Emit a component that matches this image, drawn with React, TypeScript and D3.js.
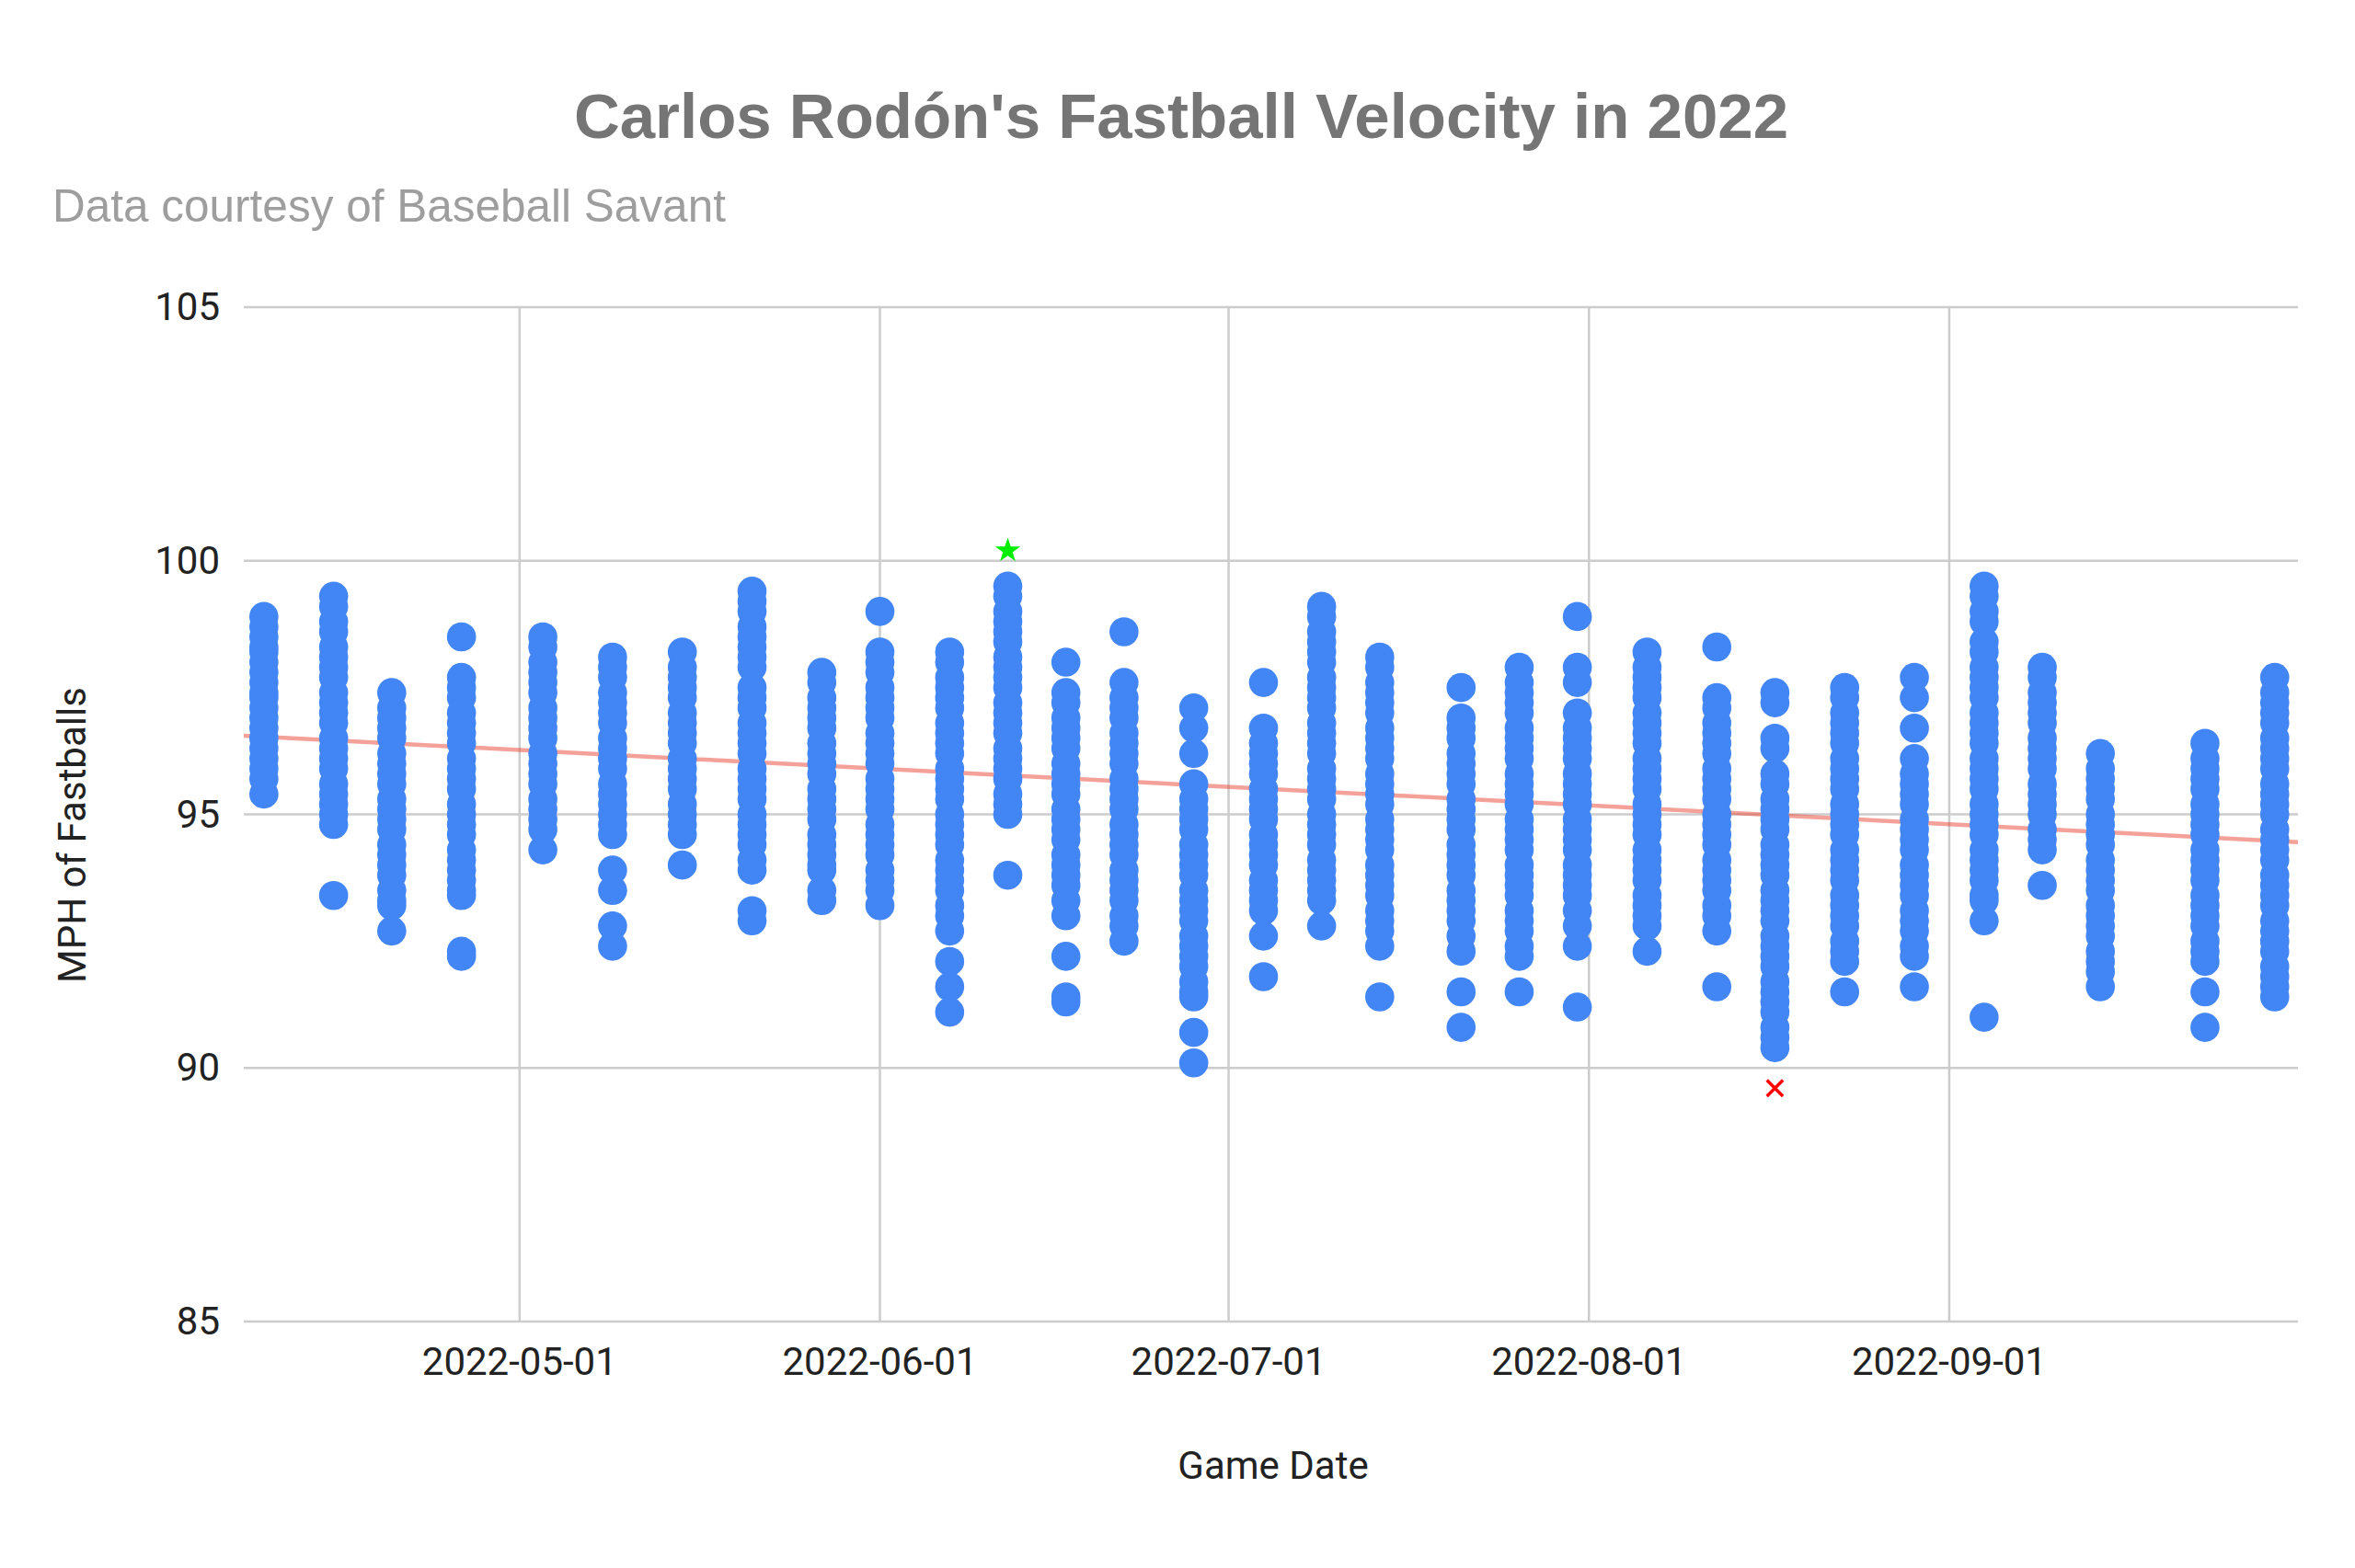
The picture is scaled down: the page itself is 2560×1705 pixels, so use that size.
import * as d3 from "d3";
import React from "react";

// Starts, one column of fastballs per game
const gameDates = [
  "2022-04-09", "2022-04-15", "2022-04-20", "2022-04-26", "2022-05-03", "2022-05-09",
  "2022-05-15", "2022-05-21", "2022-05-27", "2022-06-01", "2022-06-07", "2022-06-12",
  "2022-06-17", "2022-06-22", "2022-06-28", "2022-07-04", "2022-07-09", "2022-07-14",
  "2022-07-21", "2022-07-26", "2022-07-31", "2022-08-06", "2022-08-12", "2022-08-17",
  "2022-08-23", "2022-08-29", "2022-09-04", "2022-09-09", "2022-09-14", "2022-09-23",
  "2022-09-29",
];

// MPH of each fastball, same order as gameDates
const gameSpeeds: number[][] = [
  [98.9, 98.7, 98.5, 98.3, 98.2, 98.0, 97.8, 97.6, 97.4, 97.3, 97.1, 96.9, 96.7, 96.5, 96.3, 96.1, 95.9, 95.7, 95.4],
  [99.3, 99.1, 98.8, 98.6, 98.3, 98.1, 97.9, 97.7, 97.4, 97.2, 97.0, 96.8, 96.5, 96.3, 96.1, 95.9, 95.6, 95.4, 95.2, 95.0, 94.8, 93.4],
  [97.4, 97.1, 96.9, 96.7, 96.5, 96.2, 96.0, 95.8, 95.6, 95.3, 95.1, 94.9, 94.7, 94.4, 94.2, 94.0, 93.8, 93.5, 93.3, 93.2, 92.7],
  [98.5, 97.7, 97.5, 97.3, 97.0, 96.8, 96.6, 96.4, 96.1, 95.9, 95.7, 95.5, 95.2, 95.0, 94.8, 94.6, 94.3, 94.1, 93.9, 93.7, 93.5, 93.4, 92.3, 92.2],
  [98.5, 98.3, 98.0, 97.8, 97.6, 97.4, 97.1, 96.9, 96.7, 96.5, 96.2, 96.0, 95.8, 95.6, 95.3, 95.1, 94.9, 94.7, 94.3],
  [98.1, 97.9, 97.7, 97.4, 97.2, 97.0, 96.8, 96.5, 96.3, 96.1, 95.9, 95.6, 95.4, 95.2, 95.0, 94.8, 94.6, 93.9, 93.5, 92.8, 92.4],
  [98.2, 97.9, 97.7, 97.5, 97.3, 97.0, 96.8, 96.6, 96.4, 96.1, 95.9, 95.7, 95.5, 95.2, 95.0, 94.8, 94.6, 94.0],
  [99.4, 99.2, 99.0, 98.7, 98.5, 98.3, 98.1, 97.9, 97.5, 97.3, 97.1, 96.8, 96.6, 96.4, 96.2, 95.9, 95.7, 95.5, 95.3, 95.0, 94.8, 94.6, 94.4, 94.1, 93.9, 93.1, 92.9],
  [97.8, 97.6, 97.3, 97.1, 96.9, 96.7, 96.4, 96.2, 96.0, 95.8, 95.5, 95.3, 95.1, 94.9, 94.6, 94.4, 94.2, 94.0, 93.9, 93.5, 93.3],
  [99.0, 98.2, 98.0, 97.8, 97.5, 97.3, 97.1, 96.9, 96.6, 96.4, 96.2, 96.0, 95.7, 95.5, 95.3, 95.1, 94.8, 94.6, 94.4, 94.2, 93.9, 93.7, 93.5, 93.2],
  [98.2, 98.0, 97.7, 97.5, 97.3, 97.1, 96.8, 96.6, 96.4, 96.2, 95.9, 95.7, 95.5, 95.3, 95.0, 94.8, 94.6, 94.4, 94.1, 93.9, 93.7, 93.5, 93.2, 93.0, 92.7, 92.1, 91.6, 91.1],
  [99.5, 99.3, 99.0, 98.8, 98.6, 98.4, 98.1, 97.9, 97.7, 97.5, 97.2, 97.0, 96.8, 96.6, 96.3, 96.1, 95.9, 95.7, 95.4, 95.2, 95.0, 93.8],
  [98.0, 97.4, 97.2, 96.9, 96.7, 96.5, 96.3, 96.0, 95.8, 95.6, 95.4, 95.1, 94.9, 94.7, 94.5, 94.2, 94.0, 93.8, 93.6, 93.3, 93.0, 92.2, 91.4, 91.3],
  [98.6, 97.6, 97.3, 97.1, 96.9, 96.6, 96.4, 96.2, 96.0, 95.7, 95.5, 95.3, 95.1, 94.8, 94.6, 94.4, 94.2, 93.9, 93.7, 93.5, 93.3, 93.0, 92.8, 92.5],
  [97.1, 96.7, 96.2, 95.6, 95.3, 95.1, 94.9, 94.7, 94.4, 94.2, 94.0, 93.8, 93.5, 93.3, 93.1, 92.9, 92.6, 92.4, 92.2, 92.0, 91.7, 91.5, 91.4, 90.7, 90.1],
  [97.6, 96.7, 96.4, 96.2, 96.0, 95.8, 95.5, 95.3, 95.1, 94.9, 94.6, 94.4, 94.2, 94.0, 93.7, 93.5, 93.3, 93.1, 92.6, 91.8],
  [99.1, 98.9, 98.6, 98.4, 98.2, 98.0, 97.7, 97.5, 97.3, 97.1, 96.8, 96.6, 96.4, 96.2, 95.9, 95.7, 95.5, 95.3, 95.0, 94.8, 94.6, 94.4, 94.1, 93.9, 93.7, 93.5, 93.3, 92.8],
  [98.1, 97.9, 97.6, 97.4, 97.2, 97.0, 96.7, 96.5, 96.3, 96.1, 95.8, 95.6, 95.4, 95.2, 94.9, 94.7, 94.5, 94.3, 94.0, 93.8, 93.6, 93.4, 93.1, 92.9, 92.7, 92.4, 91.4],
  [97.5, 96.9, 96.7, 96.5, 96.2, 96.0, 95.8, 95.6, 95.3, 95.1, 94.9, 94.7, 94.4, 94.2, 94.0, 93.8, 93.5, 93.3, 93.1, 92.9, 92.6, 92.3, 91.5, 90.8],
  [97.9, 97.6, 97.4, 97.2, 97.0, 96.7, 96.5, 96.3, 96.1, 95.8, 95.6, 95.4, 95.2, 94.9, 94.7, 94.5, 94.3, 94.0, 93.8, 93.6, 93.4, 93.1, 92.9, 92.7, 92.4, 92.2, 91.5],
  [98.9, 97.9, 97.6, 97.0, 96.7, 96.5, 96.3, 96.1, 95.8, 95.6, 95.4, 95.2, 94.9, 94.7, 94.5, 94.3, 94.0, 93.8, 93.6, 93.4, 93.1, 92.8, 92.4, 91.2],
  [98.2, 97.9, 97.7, 97.5, 97.3, 97.0, 96.8, 96.6, 96.4, 96.1, 95.9, 95.7, 95.5, 95.2, 95.0, 94.8, 94.6, 94.3, 94.1, 93.9, 93.7, 93.4, 93.2, 93.0, 92.8, 92.3],
  [98.3, 97.3, 97.1, 96.8, 96.6, 96.4, 96.2, 95.9, 95.7, 95.5, 95.3, 95.0, 94.8, 94.6, 94.4, 94.1, 93.9, 93.7, 93.5, 93.2, 93.0, 92.7, 91.6],
  [97.4, 97.2, 96.5, 96.3, 95.8, 95.6, 95.3, 95.1, 94.9, 94.7, 94.4, 94.2, 94.0, 93.8, 93.5, 93.3, 93.1, 92.9, 92.6, 92.4, 92.2, 92.0, 91.7, 91.5, 91.3, 91.1, 90.8, 90.6, 90.4],
  [97.5, 97.3, 97.0, 96.8, 96.6, 96.4, 96.1, 95.9, 95.7, 95.5, 95.2, 95.0, 94.8, 94.6, 94.3, 94.1, 93.9, 93.7, 93.4, 93.2, 93.0, 92.8, 92.5, 92.3, 92.1, 91.5],
  [97.7, 97.3, 96.7, 96.1, 95.8, 95.6, 95.4, 95.2, 94.9, 94.7, 94.5, 94.3, 94.0, 93.8, 93.6, 93.4, 93.1, 92.9, 92.7, 92.4, 92.2, 91.6],
  [99.5, 99.3, 99.0, 98.8, 98.4, 98.2, 97.9, 97.7, 97.5, 97.3, 97.0, 96.8, 96.6, 96.4, 96.1, 95.9, 95.7, 95.5, 95.2, 95.0, 94.8, 94.6, 94.3, 94.1, 93.9, 93.7, 93.4, 93.3, 92.9, 91.0],
  [97.9, 97.7, 97.4, 97.2, 97.0, 96.8, 96.5, 96.3, 96.1, 95.9, 95.6, 95.4, 95.2, 95.0, 94.7, 94.5, 94.3, 93.6],
  [96.2, 95.9, 95.7, 95.5, 95.3, 95.0, 94.8, 94.6, 94.4, 94.1, 93.9, 93.7, 93.5, 93.2, 93.0, 92.8, 92.6, 92.3, 92.1, 91.9, 91.6],
  [96.4, 96.1, 95.9, 95.7, 95.5, 95.2, 95.0, 94.8, 94.6, 94.3, 94.1, 93.9, 93.7, 93.4, 93.2, 93.0, 92.8, 92.5, 92.3, 92.1, 91.5, 90.8],
  [97.7, 97.4, 97.2, 97.0, 96.8, 96.5, 96.3, 96.1, 95.9, 95.6, 95.4, 95.2, 95.0, 94.7, 94.5, 94.3, 94.1, 93.8, 93.6, 93.4, 93.2, 92.9, 92.7, 92.5, 92.3, 92.0, 91.8, 91.6, 91.4],
];

// Linear trendline, ends at the edges of the plot
const trendDates = ["2022-04-07", "2022-10-01"];
const trendSpeeds = [96.55, 94.45];

// Season max / min markers
const maxMarker = { date: "2022-06-12", mph: 100.2 };
const minMarker = { date: "2022-08-17", mph: 89.6 };

const yTicks = [85, 90, 95, 100, 105];
const xTickDates = ["2022-05-01", "2022-06-01", "2022-07-01", "2022-08-01", "2022-09-01"];

const parse = d3.timeParse("%Y-%m-%d");

export default function App() {
  const width = 2560;
  const height = 1705;
  const margin = { top: 334, right: 62, bottom: 268, left: 265 };
  const innerH = height - margin.top - margin.bottom;
  const xStart = new Date(2022, 3, 7, 6, 30);

  const x = d3
    .scaleTime()
    .domain([xStart, new Date(2022, 9, 1)])
    .range([margin.left, width - margin.right]);

  const y = d3
    .scaleLinear()
    .domain([85, 105])
    .range([margin.top + innerH, margin.top]);

  const points = gameDates.flatMap((d, i) =>
    gameSpeeds[i].map((mph) => ({ date: parse(d)!, mph }))
  );

  const trend = d3
    .line<number>()
    .x((_, i) => x(i === 0 ? xStart : parse(trendDates[i])!))
    .y((v) => y(v));

  const star = d3.symbol(d3.symbolStar, 230)()!;
  const cross = d3.symbol(d3.symbolX, 200)()!;

  const tickFont = "Roboto, 'Liberation Sans', Arial, sans-serif";

  return (
    <svg
      width={width}
      height={height}
      style={{ position: "absolute", left: 0, top: 0, background: "#fff" }}
    >
      <rect width={width} height={height} fill="#fff" />

      <text
        x={1284}
        y={150}
        textAnchor="middle"
        fontFamily="'Liberation Sans', Arial, sans-serif"
        fontWeight="bold"
        fontSize={69}
        fill="#757575"
      >
        Carlos Rodón's Fastball Velocity in 2022
      </text>
      <text
        x={57}
        y={241}
        fontFamily="'Liberation Sans', Arial, sans-serif"
        fontSize={49.5}
        fill="#9e9e9e"
      >
        Data courtesy of Baseball Savant
      </text>

      {/* gridlines */}
      <g stroke="#cccccc" strokeWidth={2.5}>
        {yTicks.map((t) => (
          <line key={t} x1={margin.left} x2={width - margin.right} y1={y(t)} y2={y(t)} />
        ))}
        {xTickDates.map((d) => (
          <line key={d} x1={x(parse(d)!)} x2={x(parse(d)!)} y1={y(105)} y2={y(85)} />
        ))}
      </g>

      {/* tick labels */}
      <g fontFamily={tickFont} fontSize={42} fill="#222">
        {yTicks.map((t) => (
          <text key={t} x={239} y={y(t) + 14} textAnchor="end">
            {t}
          </text>
        ))}
        {xTickDates.map((d) => (
          <text key={d} x={x(parse(d)!)} y={1495} textAnchor="middle">
            {d}
          </text>
        ))}
      </g>

      <path
        d={trend(trendSpeeds)!}
        fill="none"
        stroke="#ea4335"
        strokeOpacity={0.5}
        strokeWidth={4.5}
      />

      <g fill="#4285f4">
        {points.map((p, i) => (
          <circle key={i} cx={x(p.date)} cy={y(p.mph)} r={15.8} />
        ))}
      </g>

      <path
        d={star}
        transform={`translate(${x(parse(maxMarker.date)!)},${y(maxMarker.mph)})`}
        fill="#00ee00"
      />
      <path
        d={cross}
        transform={`translate(${x(parse(minMarker.date)!)},${y(minMarker.mph)})`}
        fill="none"
        stroke="#ff0000"
        strokeWidth={3.5}
      />

      <text
        x={1384}
        y={1608}
        textAnchor="middle"
        fontFamily={tickFont}
        fontSize={42}
        fill="#222"
      >
        Game Date
      </text>
      <text
        transform="translate(93,908) rotate(-90)"
        textAnchor="middle"
        fontFamily={tickFont}
        fontSize={42}
        fill="#222"
      >
        MPH of Fastballs
      </text>
    </svg>
  );
}
